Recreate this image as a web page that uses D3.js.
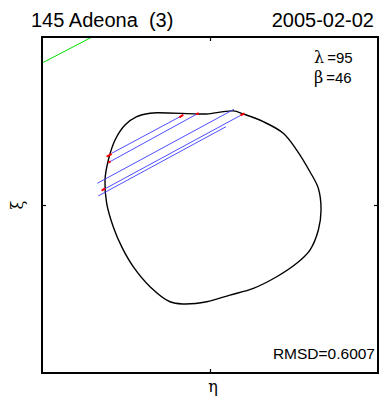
<!DOCTYPE html>
<html>
<head>
<meta charset="utf-8">
<script src="https://cdn.jsdelivr.net/npm/d3@7"></script>
<style>
  html, body { margin: 0; padding: 0; background: #fff; }
  svg { display: block; font-family: "Liberation Sans", Arial, sans-serif; }
  svg text { white-space: pre; }
</style>
</head>
<body>
<svg id="chart" width="380" height="399"></svg>
<script>
// Sky-plane projection of the shape model (η, ξ in arbitrary plane units)
const titleText = "145 Adeona  (3)";
const dateText = "2005-02-02";
const lambdaValue = 95;
const betaValue = 46;
const rmsdValue = "0.6007";
const tickValues = [0];

// Model outline
const contour = [
  [-30.8, 54.9], [-7.9, 54.2], [-2.0, 54.2], [13.9, 56.0], [19.8, 54.2],
  [31.7, 49.6], [43.6, 42.7], [51.6, 32.7], [59.5, 19.8], [64.5, 9.9],
  [66.1, -3.0], [64.5, -14.9], [59.5, -26.8], [51.6, -34.7], [39.7, -42.7],
  [25.8, -49.6], [11.9, -53.6], [-2.0, -57.6], [-15.9, -58.9], [-23.8, -57.6],
  [-35.7, -48.6], [-45.7, -36.7], [-52.6, -24.8], [-57.6, -12.9], [-61.5, 1.0],
  [-62.5, 14.9], [-60.5, 26.8], [-56.5, 38.7], [-50.6, 47.6], [-43.6, 52.6],
  [-35.7, 54.6]
];

// Observed occultation chords: [η1, ξ1, η2, ξ2]
const chords = [
  [-58.5, 30.8, -15.9, 53.6],
  [-59.5, 25.8, -7.0, 54.6],
  [-67.1, 12.9, 14.3, 57.0],
  [-63.9, 8.9, 19.8, 54.2],
  [-66.5, 5.4, 9.5, 46.6]
];

// Residuals between chord ends and model limb
const residuals = [
  [-61.5, 28.8, -58.5, 30.4],
  [-18.3, 52.2, -15.9, 53.6],
  [-60.5, 25.2, -59.2, 25.9],
  [-8.3, 54.0, -6.7, 54.6],
  [-64.5, 8.5, -62.5, 9.9],
  [18.2, 53.3, 20.5, 54.6]
];

// Negative (miss) chord
const missChord = [[-100, 84.5, -70.2, 100]];

const svg = d3.select("#chart");
const plotLeft = 42, plotRight = 378, plotTop = 37, plotBottom = 373;

const x = d3.scaleLinear().domain([-100, 100]).range([plotLeft, plotRight]);
const y = d3.scaleLinear().domain([-100, 100]).range([plotBottom, plotTop]);

const plot = svg.append("g");

// Miss chord
plot.selectAll("line.miss").data(missChord).join("line")
  .attr("class", "miss")
  .attr("x1", d => x(d[0])).attr("y1", d => y(d[1]))
  .attr("x2", d => x(d[2])).attr("y2", d => y(d[3]))
  .attr("stroke", "#00e000").attr("stroke-width", 1);

// Outline
const outline = d3.line()
  .x(d => x(d[0])).y(d => y(d[1]))
  .curve(d3.curveCatmullRomClosed.alpha(0.5));
plot.append("path")
  .datum(contour)
  .attr("d", outline)
  .attr("fill", "none")
  .attr("stroke", "#000")
  .attr("stroke-width", 1.4);

// Chords
plot.selectAll("line.chord").data(chords).join("line")
  .attr("class", "chord")
  .attr("x1", d => x(d[0])).attr("y1", d => y(d[1]))
  .attr("x2", d => x(d[2])).attr("y2", d => y(d[3]))
  .attr("stroke", "#3a3aff").attr("stroke-width", 0.9);

// Residual segments
plot.selectAll("line.res").data(residuals).join("line")
  .attr("class", "res")
  .attr("x1", d => x(d[0])).attr("y1", d => y(d[1]))
  .attr("x2", d => x(d[2])).attr("y2", d => y(d[3]))
  .attr("stroke", "#ff0000").attr("stroke-width", 2);

// Frame
svg.append("rect")
  .attr("x", plotLeft).attr("y", plotTop)
  .attr("width", plotRight - plotLeft).attr("height", plotBottom - plotTop)
  .attr("fill", "none").attr("stroke", "#000").attr("stroke-width", 2);

// Centre ticks
function styleAxis(g) {
  g.select(".domain").remove();
  g.selectAll(".tick line").attr("stroke", "#000").attr("stroke-width", 1.2);
  g.selectAll(".tick text").remove();
}
svg.append("g").attr("transform", `translate(0,${plotBottom})`)
  .call(d3.axisBottom(x).tickValues(tickValues).tickSize(-4).tickFormat(""))
  .call(styleAxis);
svg.append("g").attr("transform", `translate(0,${plotTop})`)
  .call(d3.axisTop(x).tickValues(tickValues).tickSize(-4).tickFormat(""))
  .call(styleAxis);
svg.append("g").attr("transform", `translate(${plotLeft},0)`)
  .call(d3.axisLeft(y).tickValues(tickValues).tickSize(-4).tickFormat(""))
  .call(styleAxis);
svg.append("g").attr("transform", `translate(${plotRight},0)`)
  .call(d3.axisRight(y).tickValues(tickValues).tickSize(-4).tickFormat(""))
  .call(styleAxis);

// Titles
svg.append("text").attr("x", 31).attr("y", 27)
  .attr("font-size", 20).attr("fill", "#000").text(titleText);
svg.append("text").attr("x", 374).attr("y", 27).attr("text-anchor", "end")
  .attr("font-size", 20).attr("fill", "#000").text(dateText);

// Pole coordinates
const poleLines = [["λ", lambdaValue, 63], ["β", betaValue, 83]];
poleLines.forEach(([sym, val, yy]) => {
  const t = svg.append("text").attr("x", 314).attr("y", yy)
    .attr("font-size", 15).attr("fill", "#000");
  t.append("tspan").attr("font-family", "'DejaVu Serif', 'Liberation Serif', serif")
    .attr("font-size", 16).text(sym);
  t.append("tspan").attr("dx", 3).text("=" + val);
});

// Fit quality
svg.append("text").attr("x", 375).attr("y", 359).attr("text-anchor", "end")
  .attr("font-size", 15.5).attr("fill", "#000").text("RMSD=" + rmsdValue);

// Axis labels
svg.append("text").attr("transform", `translate(23,${y(0)}) rotate(-90)`)
  .attr("text-anchor", "middle")
  .attr("font-family", "'DejaVu Serif', 'Liberation Serif', serif")
  .attr("font-size", 16).attr("fill", "#000").text("ξ");
svg.append("text").attr("x", x(0) + 3).attr("y", 392)
  .attr("text-anchor", "middle")
  .attr("font-family", "'DejaVu Serif', 'Liberation Serif', serif")
  .attr("font-size", 16).attr("fill", "#000").text("η");
</script>
</body>
</html>
